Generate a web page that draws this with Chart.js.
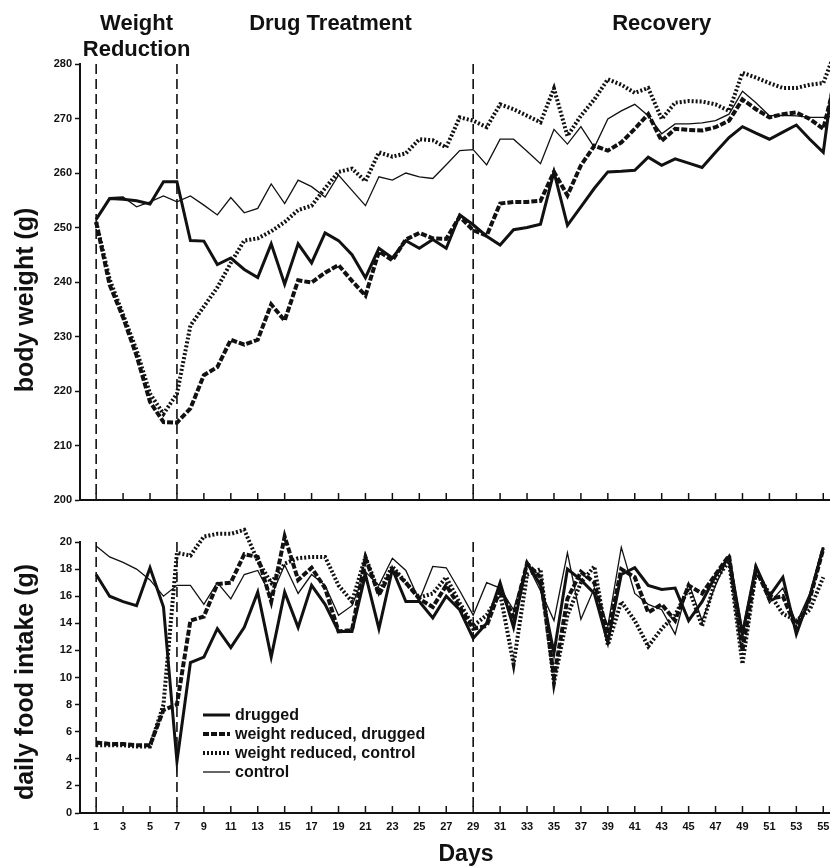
<!DOCTYPE html>
<html>
<head>
<meta charset="utf-8">
<script src="https://cdn.jsdelivr.net/npm/chart.js@4.4.0/dist/chart.umd.min.js"></script>
<style>
  body { margin: 0; background: #fff; }
  #wrap { position: relative; width: 830px; height: 866px; }
  #weightChart { position: absolute; left: 0; top: 0; }
  #foodChart { position: absolute; left: 0; top: 515px; }
</style>
</head>
<body>
<div id="wrap">
  <canvas id="weightChart" width="830" height="515"></canvas>
  <canvas id="foodChart" width="830" height="351"></canvas>
</div>
<script>
// days 1..56 (day 56 only runs off the right edge of the weight panel)
const weightDays = [1,2,3,4,5,6,7,8,9,10,11,12,13,14,15,16,17,18,19,20,21,22,23,24,25,26,27,28,
  29,30,31,32,33,34,35,36,37,38,39,40,41,42,43,44,45,46,47,48,49,50,51,52,53,54,55,56];
const foodDays = [1,2,3,4,5,6,7,8,9,10,11,12,13,14,15,16,17,18,19,20,21,22,23,24,25,26,27,28,
  29,30,31,32,33,34,35,36,37,38,39,40,41,42,43,44,45,46,47,48,49,50,51,52,53,54,55];
const tickDays = [1,3,5,7,9,11,13,15,17,19,21,23,25,27,29,31,33,35,37,39,41,43,45,47,49,51,53,55];
const phaseDays = [1, 7, 29];

// body weight (g)
const weightDrugged = [251.5,255.3,255.2,254.9,254.3,258.4,258.4,247.6,247.5,243.2,244.4,242.3,240.8,247,
  239.6,247,243.5,249,247.6,245,240.8,246.2,244.4,247.6,246.2,247.8,246.2,252.3,250.5,248.4,246.8,249.6,
  250,250.6,260.2,250.4,253.8,257.2,260.2,260.3,260.5,262.9,261.4,262.6,261.8,261,263.8,266.5,268.5,
  267.3,266.2,267.5,268.8,266.2,263.8,282];
const weightReducedDrugged = [251,239.5,233.5,226.5,218,214.3,214.2,216.8,222.9,224.4,229.4,228.5,229.4,
  235.9,232.9,240.3,239.9,241.7,243.1,240.2,237.5,245.6,244,247.8,249,248,247.9,252,249.5,248.5,254.4,
  254.7,254.7,254.9,260.2,255.9,261.4,265,264.1,265.6,268.1,270.8,265.9,268.1,267.9,267.8,268.4,269.6,
  273.5,271.7,270.2,270.8,271.1,269.9,268.1,278];
const weightReducedControl = [251,240.5,234,227.5,219.5,215.8,219.5,232,235.5,239,243.5,247.6,248,249.3,
  251,253.2,254,257.2,260.2,260.8,258.5,263.8,263,263.6,266.2,266,264.7,270.2,269.6,268.4,272.6,271.7,
  270.5,269.3,275.5,266.8,270.5,273.5,277.2,276.2,274.7,275.6,269.9,272.9,273.2,273.1,272.6,271.4,278.4,
  277.5,276.5,275.6,275.6,276.2,276.5,283];
const weightControl = [251.5,255.5,255.6,253.8,254.7,255.8,254.7,255.8,254.1,252.3,255.5,252.7,253.5,258,
  254.4,258.7,257.5,255.6,259.6,256.8,254,259.3,258.7,260,259.3,259,261.5,264.1,264.3,261.5,266.2,266.2,
  264,261.7,268,265.3,268.5,264.7,269.9,271.4,272.6,270.5,267.2,269,269,269.2,269.6,270.8,275,272.9,
  270.5,270.6,270.5,270.2,270.2,270.5];

// daily food intake (g)
const foodDrugged = [17.6,16.0,15.6,15.3,18.1,15.2,3.8,11.1,11.5,13.6,12.2,13.7,16.3,11.5,16.3,13.7,16.8,
  15.4,13.4,13.4,17.6,13.6,18.0,15.6,15.6,14.4,16.0,15.0,12.9,14.0,17.0,13.7,18.5,16.8,11.8,18.0,17.2,
  16.2,12.6,17.6,18.1,16.8,16.5,16.6,14.2,15.6,17.5,18.9,13.2,18.2,16.0,17.4,13.2,16.0,19.6];
const foodReducedDrugged = [5.2,5.1,5.1,5.0,5.0,7.6,8.0,14.2,14.5,16.9,17.0,19.1,18.9,15.6,20.4,17.2,18.1,
  16.6,13.4,13.5,18.8,16.1,18.0,17.0,15.8,15.2,16.8,15.2,13.6,13.8,16.5,14.5,18.4,17.4,10.0,15.8,17.8,
  17.0,13.2,18.0,17.4,14.8,15.4,14.2,16.8,16.2,17.6,19.0,12.0,18.0,15.8,16.0,13.6,15.8,19.5];
const foodReducedControl = [5.0,5.0,5.0,4.9,4.9,8.0,19.2,19.0,20.4,20.6,20.6,20.9,18.6,17.0,18.4,18.8,18.9,
  18.9,16.8,15.6,18.9,16.3,18.2,17.0,15.9,16.2,17.4,15.5,13.8,14.6,16.2,11.0,17.6,18.0,9.6,14.6,17.0,
  18.2,12.4,15.6,14.2,12.3,13.6,14.6,16.6,13.8,17.2,18.6,11.0,17.8,16.2,14.7,14.2,15.0,17.4];
const foodControl = [19.7,18.9,18.5,18.0,17.2,16.0,16.8,16.8,15.4,17.0,15.8,17.6,17.9,16.0,18.3,16.2,17.6,
  16.8,14.6,15.3,17.8,16.8,18.8,17.9,15.7,18.2,18.1,16.4,14.6,17.0,16.6,15.0,18.4,16.4,14.2,19.2,14.3,
  16.6,13.8,19.6,16.2,15.4,15.0,13.2,17.0,14.2,16.8,19.0,13.5,18.3,15.5,16.6,14.0,16.2,19.6];

const ink = '#111';
const font = '"Liberation Sans", Arial, Helvetica, sans-serif';

const toPoints = (xs, ys) => ys.map((y, i) => ({ x: xs[i], y }));

const line = (label, xs, ys, width, dash) => ({
  label,
  data: toPoints(xs, ys),
  borderColor: ink,
  borderWidth: width,
  borderDash: dash,
  pointRadius: 0,
  tension: 0,
  fill: false,
  clip: false
});

// dashed phase lines, inward day ticks, titles and legend
const decor = {
  id: 'decor',
  afterDatasetsDraw(chart, args, opts) {
    const { ctx, chartArea: area, scales: { x } } = chart;
    ctx.save();
    ctx.strokeStyle = ink;
    ctx.fillStyle = ink;

    ctx.lineWidth = 1.6;
    ctx.setLineDash([10, 5]);
    phaseDays.forEach(d => {
      const px = x.getPixelForValue(d);
      ctx.beginPath();
      ctx.moveTo(px, area.top);
      ctx.lineTo(px, area.bottom);
      ctx.stroke();
    });

    ctx.setLineDash([]);
    ctx.lineWidth = 1.5;
    tickDays.forEach(d => {
      const px = x.getPixelForValue(d);
      ctx.beginPath();
      ctx.moveTo(px, area.bottom);
      ctx.lineTo(px, area.bottom - 7);
      ctx.stroke();
    });

    ctx.textAlign = 'center';
    ctx.textBaseline = 'alphabetic';
    ctx.font = `bold 22px ${font}`;
    (opts.headers || []).forEach(h => {
      ctx.fillText(h.text, x.getPixelForValue(h.day), h.y);
    });

    if (opts.xTitle) {
      ctx.font = `bold 23px ${font}`;
      ctx.fillText(opts.xTitle, opts.xTitleX, opts.xTitleY);
    }

    if (opts.legend) {
      const lg = opts.legend;
      ctx.textAlign = 'left';
      ctx.textBaseline = 'middle';
      ctx.font = `bold 16px ${font}`;
      chart.data.datasets.forEach((ds, i) => {
        const y = lg.y + i * lg.gap;
        ctx.lineWidth = ds.borderWidth;
        ctx.setLineDash(ds.borderDash);
        ctx.beginPath();
        ctx.moveTo(lg.x, y);
        ctx.lineTo(lg.x + 27, y);
        ctx.stroke();
        ctx.setLineDash([]);
        ctx.fillText(ds.label, lg.x + 32, y + 1);
      });
    }

    ctx.font = `bold 25px ${font}`;
    ctx.textAlign = 'center';
    ctx.textBaseline = 'middle';
    ctx.translate(26, opts.titleY);
    ctx.rotate(-Math.PI / 2);
    ctx.fillText(opts.title, 0, 0);
    ctx.restore();
  }
};

const fixY = scale => {
  scale.width = 80;
  scale.paddingTop = 0;
  scale.paddingBottom = 0;
};

const yAxis = (min, max, step) => ({
  min, max,
  ticks: { stepSize: step, color: ink, padding: 3, font: { family: font, size: 11, weight: 'bold' } },
  grid: { drawOnChartArea: false, color: ink, tickLength: 5, tickWidth: 1.5 },
  border: { color: ink, width: 2 },
  afterFit: fixY
});

const xAxis = (height, showLabels) => ({
  type: 'linear',
  min: -0.2,
  max: 55.5,
  afterBuildTicks: scale => { scale.ticks = tickDays.map(v => ({ value: v })); },
  ticks: {
    display: showLabels,
    color: ink,
    padding: 7,
    autoSkip: false,
    maxRotation: 0,
    font: { family: font, size: 11, weight: 'bold' }
  },
  grid: { display: false, drawTicks: false },
  border: { color: ink, width: 2 },
  afterFit: scale => {
    scale.height = height;
    scale.paddingLeft = 0;
    scale.paddingRight = 0;
  }
});

new Chart(document.getElementById('weightChart'), {
  type: 'line',
  data: {
    datasets: [
      line('drugged', weightDays, weightDrugged, 3, []),
      line('weight reduced, drugged', weightDays, weightReducedDrugged, 4, [6, 2]),
      line('weight reduced, control', weightDays, weightReducedControl, 4, [2, 2]),
      line('control', weightDays, weightControl, 1.3, [])
    ]
  },
  options: {
    responsive: false,
    animation: false,
    devicePixelRatio: 1,
    layout: { padding: { top: 64, left: 0, right: 0, bottom: 0 } },
    scales: { x: xAxis(15, false), y: yAxis(200, 280, 10) },
    plugins: {
      legend: { display: false },
      tooltip: { enabled: false },
      decor: {
        title: 'body weight (g)',
        titleY: 300,
        headers: [
          { text: 'Weight', day: 4, y: 30 },
          { text: 'Reduction', day: 4, y: 56 },
          { text: 'Drug Treatment', day: 18.4, y: 30 },
          { text: 'Recovery', day: 43, y: 30 }
        ]
      }
    }
  },
  plugins: [decor]
});

new Chart(document.getElementById('foodChart'), {
  type: 'line',
  data: {
    datasets: [
      line('drugged', foodDays, foodDrugged, 3, []),
      line('weight reduced, drugged', foodDays, foodReducedDrugged, 4, [6, 2]),
      line('weight reduced, control', foodDays, foodReducedControl, 4, [2, 2]),
      line('control', foodDays, foodControl, 1.3, [])
    ]
  },
  options: {
    responsive: false,
    animation: false,
    devicePixelRatio: 1,
    layout: { padding: { top: 27, left: 0, right: 0, bottom: 0 } },
    scales: { x: xAxis(53, true), y: yAxis(0, 20, 2) },
    plugins: {
      legend: { display: false },
      tooltip: { enabled: false },
      decor: {
        title: 'daily food intake (g)',
        titleY: 167,
        xTitle: 'Days',
        xTitleX: 466,
        xTitleY: 346,
        legend: { x: 203, y: 200, gap: 19 }
      }
    }
  },
  plugins: [decor]
});
</script>
</body>
</html>
